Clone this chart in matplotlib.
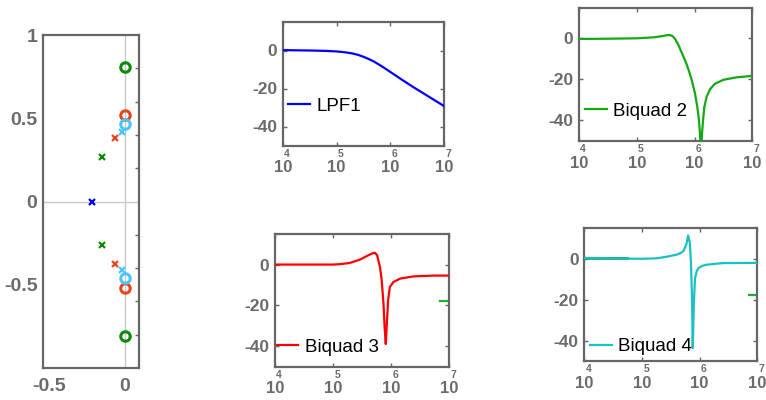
import numpy as np
import matplotlib
matplotlib.use("Agg")
import matplotlib.pyplot as plt

plt.rcParams["font.family"] = ["Liberation Sans", "DejaVu Sans"]
plt.rcParams["axes.unicode_minus"] = False

# ---- pole / zero locations (s-plane, normalised) ----
zero_re = [0.0, 0.0, 0.0, 0.0, 0.0, 0.0]
zero_im = [0.81, -0.81, 0.52, -0.52, 0.465, -0.46]
zero_col = ["#0a8a0a", "#0a8a0a", "#e8451e", "#e8451e", "#4ec4ff", "#4ec4ff"]

pole_re = [-0.215, -0.15, -0.15, -0.065, -0.065, -0.02, -0.02]
pole_im = [0.0, 0.265, -0.26, 0.38, -0.377, 0.42, -0.41]
pole_col = ["#0000e6", "#0a8a0a", "#0a8a0a", "#e8451e", "#e8451e", "#4ec4ff", "#4ec4ff"]

# ---- magnitude responses: log10(frequency) and gain in dB ----
lpf1_dec = [4.0, 4.5, 4.8, 5.0, 5.1, 5.2, 5.3, 5.4, 5.5, 5.6, 5.7, 5.8, 5.9, 6.0,
            6.2, 6.4, 6.6, 6.8, 7.0]
lpf1_db = [0.2, 0.0, -0.2, -0.5, -0.75, -1.1, -1.6, -2.3, -3.3, -4.5, -5.9, -7.6, -9.4, -11.3,
           -15.1, -18.8, -22.3, -25.8, -29.3]

bq2_dec = [4.0, 4.5, 5.0, 5.3, 5.45, 5.52, 5.57, 5.62, 5.67, 5.72, 5.76, 5.81, 5.864, 5.910,
           5.950, 6.008, 6.048, 6.077, 6.095, 6.112, 6.129, 6.147, 6.170, 6.210, 6.268,
           6.354, 6.499, 6.729, 7.0]
bq2_db = [-0.3, -0.2, 0.0, 0.5, 1.1, 1.5, 1.6, 1.1, -0.6, -3.2, -5.8, -9.0, -12.7, -16.5,
          -20.2, -26.8, -33.4, -40.0, -46.6, -62.0, -46.6, -40.0, -33.4, -28.4, -24.8,
          -22.1, -20.2, -19.0, -18.3]

bq3_dec = [4.0, 4.5, 5.0, 5.12, 5.29, 5.47, 5.61, 5.68, 5.72, 5.76, 5.81, 5.84, 5.87,
           5.89, 5.91, 5.925, 5.95, 5.98, 6.04, 6.155, 6.385, 6.73, 7.0]
bq3_db = [0.0, 0.0, 0.0, 0.2, 0.8, 2.5, 4.6, 5.5, 5.8, 4.6, -1.2, -7.7, -19.0,
          -30.8, -39.0, -30.8, -17.6, -11.0, -8.6, -6.9, -5.8, -5.4, -5.4]

bq4_dec = [4.0, 4.5, 5.0, 5.25, 5.43, 5.6, 5.68, 5.72, 5.77, 5.80, 5.83, 5.85, 5.87, 5.88,
           5.90, 5.92, 5.95, 5.98, 6.04, 6.12, 6.41, 7.0]
bq4_db = [0.3, 0.1, 0.0, 0.2, 1.0, 2.0, 2.9, 3.8, 7.0, 11.4, 7.7, -2.0, -21.5, -43.5,
          -21.5, -9.5, -6.0, -4.6, -3.5, -2.9, -2.1, -2.0]

# short Biquad 2 remnants overlaid on the lower panels
tail_dec = [6.85, 7.0]
tail_db = [-17.9, -17.9]
low_dec = [4.0, 4.75]
low_db = [0.2, 0.1]

GRAY = "#6b6b6b"
SPINE = "#666666"

fig = plt.figure(figsize=(7.66, 4.0), dpi=100)

# ---------------- pole-zero map ----------------
ax = fig.add_axes([43 / 766, 1 - 368 / 400, 96 / 766, 333 / 400])
ax.axhline(0, color="#c8c8c8", lw=1.0, zorder=1)
ax.axvline(0, color="#c8c8c8", lw=1.0, zorder=1)
for x, y, c in zip(zero_re, zero_im, zero_col):
    ax.plot(x, y, "o", ms=6.8, mfc="none", mec=c, mew=2.2, zorder=3)
for x, y, c in zip(pole_re, pole_im, pole_col):
    ax.plot(x, y, "x", ms=4.5, mec=c, mew=1.6, zorder=3)
ax.set_xlim(-0.54, 0.095)
ax.set_ylim(-1.0, 1.0)
ax.set_xticks([-0.5, 0])
ax.set_xticklabels(["-0.5", "0"])
ax.set_yticks([-0.5, 0, 0.5, 1])
ax.set_yticklabels(["-0.5", "0", "0.5", "1"])
ax.tick_params(axis="both", length=0, labelsize=14, labelcolor=GRAY)
ax.tick_params(axis="x", pad=7)
ax.tick_params(axis="y", pad=4)
for lab in ax.get_xticklabels() + ax.get_yticklabels():
    lab.set_fontweight("bold")
for s in ax.spines.values():
    s.set_color(SPINE)
    s.set_linewidth(1.6)

axr = ax.twinx()
axr.set_ylim(-1.0, 1.0)
axr.set_yticks([-0.8, -0.6, -0.4, -0.2, 0.2, 0.4, 0.6, 0.8])
axr.tick_params(axis="y", direction="in", length=3, width=1, color=SPINE, labelright=False)
for t in axr.yaxis.get_major_ticks():
    if abs(t.get_loc() + 0.2) < 1e-9:
        t.tick2line.set_color("#22a022")
for s in axr.spines.values():
    s.set_visible(False)


# ---------------- magnitude panels ----------------
def bode_axes(rect_px, name, dec, db, color, leg_xy, extras=()):
    left, right, top, bottom = rect_px
    a = fig.add_axes([left / 766, 1 - bottom / 400, (right - left) / 766, (bottom - top) / 400])
    for edec, edb, ec, elw, ealpha in extras:
        a.plot(np.power(10.0, edec), edb, color=ec, lw=elw, alpha=ealpha, zorder=2)
    a.plot(np.power(10.0, dec), db, color=color, lw=1.6, label=name, zorder=3)
    a.set_xscale("log")
    a.set_xlim(1e4, 1e7)
    a.set_ylim(-50, 15)
    a.set_xticks([1e4, 1e5, 1e6, 1e7])
    a.set_xticklabels(["10"] * 4)
    a.minorticks_off()
    a.set_yticks([-40, -20, 0])
    a.set_yticklabels(["-40", "-20", "0"])
    a.tick_params(axis="both", direction="in", length=3, width=1, color=SPINE,
                  top=True, right=True, labelcolor=GRAY)
    a.tick_params(axis="x", labelsize=12, pad=10.5)
    a.tick_params(axis="y", labelsize=12.5, pad=4)
    for lab in a.get_xticklabels() + a.get_yticklabels():
        lab.set_fontweight("bold")
    for e in (4, 5, 6, 7):
        a.annotate(str(e), xy=(10.0 ** e, 0), xycoords=("data", "axes fraction"),
                   xytext=(3.0, -2.2), textcoords="offset points", ha="center", va="top",
                   fontsize=7.5, fontweight="bold", color=GRAY, annotation_clip=False)
    for s in a.spines.values():
        s.set_color(SPINE)
        s.set_linewidth(1.6)
    a.legend(loc="center left", bbox_to_anchor=leg_xy, frameon=False, fontsize=13.5,
             handlelength=1.15, handletextpad=0.35, borderpad=0, borderaxespad=0)
    return a


bode_axes((282.7, 444.2, 22.0, 145.5), "LPF1", lpf1_dec, lpf1_db, "#0000ff", (0.033, 0.317))
bode_axes((579.0, 752.3, 7.5, 141.0), "Biquad 2", bq2_dec, bq2_db, "#14a814", (0.035, 0.224))
bode_axes((275.0, 449.0, 234.0, 366.5), "Biquad 3", bq3_dec, bq3_db, "#ff0000", (0.01, 0.144),
          extras=[(tail_dec, tail_db, "#22b022", 1.6, 1.0)])
bode_axes((584.3, 757.3, 228.0, 361.3), "Biquad 4", bq4_dec, bq4_db, "#19c0c4", (0.033, 0.108),
          extras=[(tail_dec, tail_db, "#22b022", 1.6, 1.0),
                  (low_dec, low_db, "#2a8a3a", 2.2, 0.9)])

fig.savefig("out.png", dpi=100)
